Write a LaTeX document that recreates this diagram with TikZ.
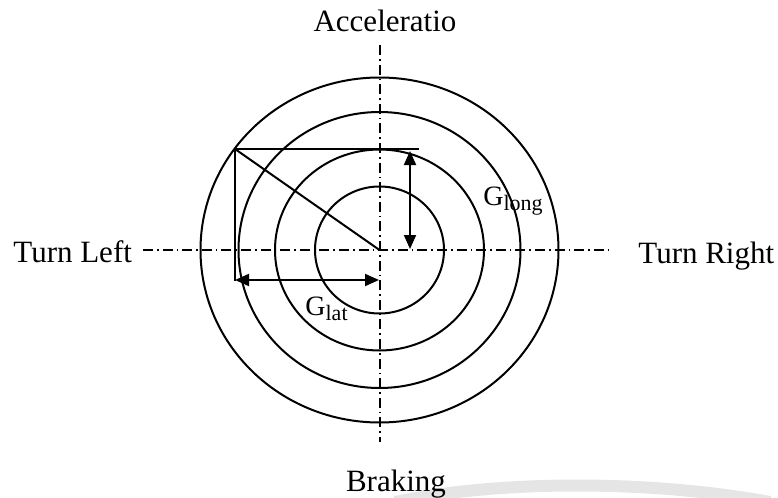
\documentclass[tikz,border=0pt]{standalone}
\usepackage{fontspec}
\setmainfont{Liberation Serif}
\usetikzlibrary{arrows.meta}
\newcommand{\gsub}[1]{\raisebox{-2.5pt}{\fontsize{11}{12}\selectfont #1}}
\tikzset{ring/.style={line width=1pt},
  axis/.style={line width=0.7pt, dash pattern=on 5pt off 2pt on 0.8pt off 2pt},
  vec/.style={line width=1pt, {Triangle[length=7pt,width=6pt]}-{Triangle[length=7pt,width=6pt]}},
  lbl/.style={inner sep=0pt, font=\fontsize{15.5}{18}\selectfont},
  glbl/.style={inner sep=0pt, font=\fontsize{14}{16}\selectfont}}

\begin{document}
\begin{tikzpicture}[x=0.5pt, y=-0.5pt]
  \useasboundingbox (0,0) rectangle (778,498);
  % faint swoosh near the bottom edge
  \draw[gray!20, line width=6pt] (395,502) .. controls (500,480) and (650,480) .. (770,502);
  % axis labels
  \node[lbl, anchor=base] (acc) at (385,32) {Acceleratio};
  \node[lbl, anchor=base] (brk) at (396,491) {Braking};
  \node[lbl, anchor=base west] (tl) at (13,262) {Turn Left};
  \node[lbl, anchor=base west] (tr) at (638,263) {Turn Right};
  % axes
  \coordinate (o) at (379.5,250);
  \coordinate (ax1) at (380,45);
  \coordinate (ax2) at (380,442);
  \coordinate (ax3) at (143,250);
  \coordinate (ax4) at (610,250);
  \draw[axis] (ax1) -- (ax2);
  \draw[axis] (ax3) -- (ax4);
  % friction circles
  \draw[ring] (o) ellipse [x radius=179, y radius=172.5];
  \draw[ring] (o) ellipse [x radius=141, y radius=138];
  \draw[ring] (o) ellipse [x radius=104.5, y radius=100.5];
  \draw[ring] (o) ellipse [x radius=64.5, y radius=63.5];
  % resultant and its components
  \coordinate (p) at (235,149);
  \coordinate (pt) at (419,149);
  \coordinate (pb) at (235,281);
  \draw[ring] (pt) -- (p) -- (pb);
  \draw[ring] (p) -- (o);
  \coordinate (lat1) at (235,280);
  \coordinate (lat2) at (379,280);
  \draw[vec] (lat1) -- (lat2);
  \coordinate (lng1) at (410,151);
  \coordinate (lng2) at (410,249);
  \draw[vec] (lng1) -- (lng2);
  \node[glbl, anchor=base west] (glong) at (483,205) {G\gsub{long}};
  \node[glbl, anchor=base west] (glat) at (305,315) {G\gsub{lat}};
\end{tikzpicture}
\end{document}
